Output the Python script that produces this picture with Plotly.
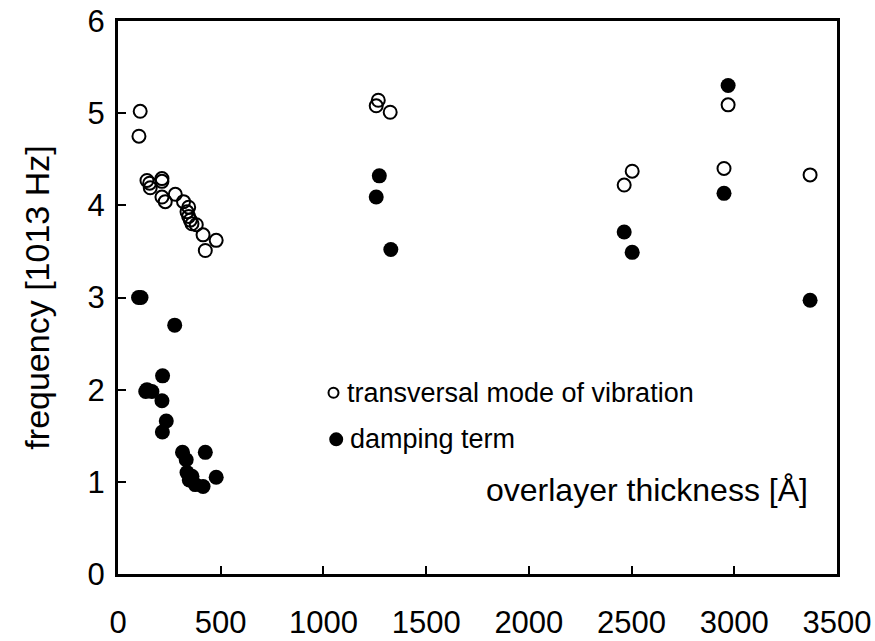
import plotly.graph_objects as go

# transversal mode of vibration (open circles)
trans_x = [108, 102, 141, 154, 157, 214, 214, 214, 230, 279, 319, 344, 336, 344, 352, 360, 381, 414, 478, 425,
           1257, 1267, 1325, 2464, 2503, 2950, 2970, 3369]
trans_y = [5.02, 4.75, 4.27, 4.24, 4.19, 4.29, 4.26, 4.09, 4.04, 4.12, 4.04, 3.98, 3.93, 3.88, 3.84, 3.80, 3.79, 3.68, 3.62, 3.51,
           5.08, 5.14, 5.01, 4.22, 4.37, 4.40, 5.09, 4.33]

# damping term (filled circles)
damp_x = [100, 112, 276, 217, 141, 165, 135, 214, 235, 216, 314, 425, 332, 336, 347, 376, 414, 478, 360,
          1272, 1257, 1328, 2464, 2503, 2950, 2970, 3369]
damp_y = [3.00, 3.00, 2.70, 2.15, 2.00, 1.98, 1.98, 1.88, 1.66, 1.54, 1.32, 1.32, 1.24, 1.10, 1.02, 0.97, 0.95, 1.05, 1.06,
          4.32, 4.09, 3.52, 3.71, 3.49, 4.13, 5.30, 2.97]

x_ticks = [0, 500, 1000, 1500, 2000, 2500, 3000, 3500]
y_ticks = [0, 1, 2, 3, 4, 5, 6]

FONT = "Liberation Sans, Arial, sans-serif"

fig = go.Figure()
fig.add_trace(go.Scatter(x=trans_x, y=trans_y, mode="markers",
                         marker=dict(symbol="circle-open", size=13, color="black", line=dict(width=2, color="black")),
                         name="transversal mode of vibration"))
fig.add_trace(go.Scatter(x=damp_x, y=damp_y, mode="markers",
                         marker=dict(symbol="circle", size=15, color="black"),
                         name="damping term"))

axis_common = dict(showline=True, linewidth=3, linecolor="black", mirror=True,
                   ticks="inside", ticklen=8, tickwidth=2, tickcolor="black",
                   showgrid=False, zeroline=False, automargin=False,
                   tickfont=dict(family=FONT, size=31, color="black"))

fig.update_xaxes(range=[0, 3500], tickvals=x_ticks, ticktext=[str(v) for v in x_ticks],
                 ticklabelstandoff=19, **axis_common)
fig.update_yaxes(range=[0, 6], tickvals=y_ticks, ticktext=[str(v) for v in y_ticks],
                 ticklabelstandoff=4,
                 title=dict(text="frequency [1013 Hz]", font=dict(family=FONT, size=34, color="black"), standoff=28),
                 **axis_common)

# legend-like annotations
fig.add_shape(type="circle", xref="paper", yref="paper", xsizemode="pixel", ysizemode="pixel",
              xanchor=(333.3 - 117.7) / (837 - 117.7), yanchor=(574 - 392.7) / (574 - 20.7),
              x0=-5, x1=5, y0=-5, y1=5, line=dict(color="black", width=2), fillcolor="white")
fig.add_shape(type="circle", xref="paper", yref="paper", xsizemode="pixel", ysizemode="pixel",
              xanchor=(336 - 117.7) / (837 - 117.7), yanchor=(574 - 439.3) / (574 - 20.7),
              x0=-7, x1=7, y0=-7, y1=7, line=dict(color="black", width=0), fillcolor="black")
fig.add_annotation(xref="paper", yref="paper", x=(345 - 117.7) / (837 - 117.7), y=(574 - 392.7) / (574 - 20.7),
                   xanchor="left", yanchor="middle", showarrow=False,
                   text="transversal mode of vibration", font=dict(family=FONT, size=27, color="black"))
fig.add_annotation(xref="paper", yref="paper", x=(348 - 117.7) / (837 - 117.7), y=(574 - 439.3) / (574 - 20.7),
                   xanchor="left", yanchor="middle", showarrow=False,
                   text="damping term", font=dict(family=FONT, size=27, color="black"))
fig.add_annotation(xref="paper", yref="paper", x=(810 - 117.7) / (837 - 117.7), y=(574 - 490) / (574 - 20.7),
                   xanchor="right", yanchor="middle", showarrow=False,
                   text="overlayer thickness [Å]", font=dict(family=FONT, size=32, color="black"))

fig.update_layout(width=875, height=641,
                  margin=dict(l=118, r=38, t=21, b=67, pad=0),
                  paper_bgcolor="white", plot_bgcolor="white",
                  showlegend=False)

fig.write_html("out.html")
